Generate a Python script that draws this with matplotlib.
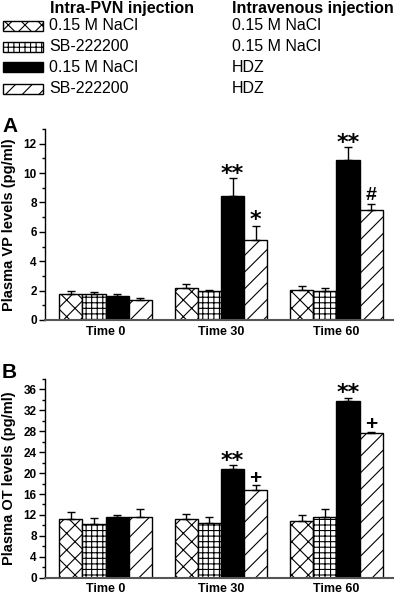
import numpy as np
import matplotlib.pyplot as plt
from matplotlib.patches import Rectangle
from matplotlib.ticker import MultipleLocator

plt.rcParams['font.family'] = ['Liberation Sans', 'DejaVu Sans']
plt.rcParams['hatch.linewidth'] = 0.8

times = ['Time 0', 'Time 30', 'Time 60']
pvn_labels = ['0.15 M NaCl', 'SB-222200', '0.15 M NaCl', 'SB-222200']
iv_labels = ['0.15 M NaCl', '0.15 M NaCl', 'HDZ', 'HDZ']

# one row per treatment group, one column per time point
vp_mean = [[1.75, 2.15, 2.05],
           [1.8, 1.95, 2.0],
           [1.6, 8.45, 10.9],
           [1.35, 5.45, 7.5]]
vp_sem = [[0.25, 0.28, 0.25],
          [0.08, 0.07, 0.15],
          [0.17, 1.2, 0.85],
          [0.15, 0.95, 0.4]]
vp_marks = [['', '', ''], ['', '', ''], ['', '**', '**'], ['', '*', '#']]

ot_mean = [[11.15, 11.2, 10.9],
           [10.25, 10.5, 11.55],
           [11.55, 20.85, 33.85],
           [11.65, 16.8, 27.6]]
ot_sem = [[1.35, 0.9, 1.05],
          [1.1, 1.1, 1.5],
          [0.4, 0.65, 0.55],
          [1.4, 0.9, 0.3]]
ot_marks = [['', '', ''], ['', '', ''], ['', '**', '**'], ['', '+', '+']]

hatches = ['xx', '+++', None, '//']
fills = ['white', 'white', 'black', 'white']
mark_style = {'**': (16, 'DejaVu Sans', -1), '*': (16, 'DejaVu Sans', 0),
              '#': (14, 'Liberation Sans', 3), '+': (15, 'Liberation Sans', 1)}

W, H = 400, 595
fig = plt.figure(figsize=(W / 100, H / 100), dpi=100)


def px_axes(left, top, right, bottom):
    return fig.add_axes([left / W, 1 - bottom / H, (right - left) / W, (bottom - top) / H])


def draw_panel(ax, mean, sem, marks, ymax, ytop, major, ylabel):
    x = np.arange(len(times))
    w = 0.2
    for i in range(4):
        xi = x + (i - 1.5) * w
        ax.bar(xi, mean[i], w, color=fills[i], edgecolor='black', hatch=hatches[i],
               linewidth=1, zorder=2)
        ax.errorbar(xi, mean[i], yerr=[np.zeros(3), sem[i]], fmt='none', ecolor='black',
                    elinewidth=1, capsize=3, capthick=1, zorder=3)
        for j in range(3):
            s = marks[i][j]
            if s:
                size, fam, dy = mark_style[s]
                ax.annotate(s, (xi[j], mean[i][j] + sem[i][j]), xytext=(0, dy),
                            textcoords='offset points', ha='center', va='baseline',
                            fontsize=size, family=fam, fontweight='bold')
    ax.set_xlim(-0.524, 2.49)
    ax.set_ylim(0, ytop)
    ax.set_yticks(np.arange(0, ymax + 0.1, major))
    ax.yaxis.set_minor_locator(MultipleLocator(major / 2))
    ax.set_xticks(x)
    ax.set_xticklabels(times, fontsize=9, fontweight='bold')
    ax.tick_params(axis='x', length=0, pad=4)
    ax.tick_params(axis='y', which='major', direction='out', length=4, width=1,
                   labelsize=8.5, pad=2)
    ax.tick_params(axis='y', which='minor', direction='out', length=2, width=1)
    for lbl in ax.get_yticklabels():
        lbl.set_fontweight('bold')
    ax.spines['top'].set_visible(False)
    ax.spines['right'].set_visible(False)
    ax.spines['left'].set_linewidth(1)
    ax.spines['bottom'].set_color('#555555')
    ax.spines['bottom'].set_linewidth(1.5)
    ax.set_ylabel(ylabel, fontsize=10.5, fontweight='bold')
    ax.yaxis.set_label_coords(-0.082, 0.5)


ax_a = px_axes(45, 129, 393, 320)
draw_panel(ax_a, vp_mean, vp_sem, vp_marks, 12, 13, 2, 'Plasma VP levels (pg/ml)')
ax_b = px_axes(45, 379, 393, 577.7)
draw_panel(ax_b, ot_mean, ot_sem, ot_marks, 36, 38, 4, 'Plasma OT levels (pg/ml)')

# legend and panel letters in pixel coordinates
lay = fig.add_axes([0, 0, 1, 1], zorder=-1)
lay.set_xlim(0, W)
lay.set_ylim(H, 0)
lay.axis('off')
lay.text(50, 8, 'Intra-PVN injection', fontsize=11.5, fontweight='bold', va='center')
lay.text(232, 8, 'Intravenous injection', fontsize=11.5, fontweight='bold', va='center')
rows = [26, 46.5, 67, 88.5]
for i, yc in enumerate(rows):
    lay.add_patch(Rectangle((3, yc - 5), 40, 10, facecolor=fills[i], edgecolor='black',
                            hatch=hatches[i], linewidth=1))
    lay.text(49, yc, pvn_labels[i], fontsize=11.5, va='center')
    lay.text(232, yc, iv_labels[i], fontsize=11.5, va='center')
lay.text(2, 126, 'A', fontsize=15, fontweight='bold', va='center')
lay.text(2, 372, 'B', fontsize=15, fontweight='bold', va='center')

fig.savefig('out.png', dpi=100)
